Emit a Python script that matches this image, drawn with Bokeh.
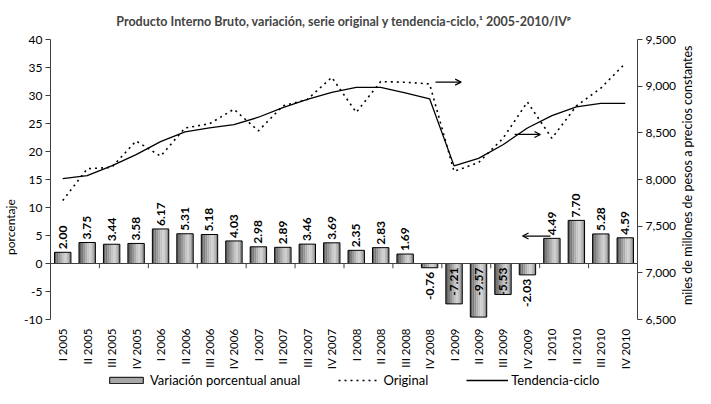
import math
from bokeh.plotting import figure
from bokeh.layouts import row, column
from bokeh.models import (Range1d, LinearAxis, FixedTicker, NumeralTickFormatter, Span,
                          ColumnDataSource, Legend, LegendItem, Arrow, OpenHead)
from bokeh.transform import dodge
from bokeh.core.properties import value
from bokeh.embed import file_html
from bokeh.resources import INLINE

# ---------------- data ----------------
quarters = ["I 2005", "II 2005", "III 2005", "IV 2005",
            "I 2006", "II 2006", "III 2006", "IV 2006",
            "I 2007", "II 2007", "III 2007", "IV 2007",
            "I 2008", "II 2008", "III 2008", "IV 2008",
            "I 2009", "II 2009", "III 2009", "IV 2009",
            "I 2010", "II 2010", "III 2010", "IV 2010"]
variation = [2.00, 3.75, 3.44, 3.58, 6.17, 5.31, 5.18, 4.03, 2.98, 2.89, 3.46, 3.69,
             2.35, 2.83, 1.69, -0.76, -7.21, -9.57, -5.53, -2.03, 4.49, 7.70, 5.28, 4.59]
original = [7774, 8115, 8130, 8413, 8250, 8552, 8597, 8753, 8521, 8788, 8858, 9094,
            8719, 9049, 9042, 9024, 8087, 8181, 8441, 8830, 8441, 8788, 8979, 9244]
trend = [8010, 8042, 8146, 8267, 8406, 8510, 8552, 8587, 8667, 8771, 8858, 8934,
         8986, 8986, 8927, 8865, 8146, 8226, 8372, 8552, 8684, 8778, 8816, 8816]
left_ticks = [-10, -5, 0, 5, 10, 15, 20, 25, 30, 35, 40]
right_ticks = [6500, 7000, 7500, 8000, 8500, 9000, 9500]
left_title = "porcentaje"
right_title = "miles de millones de pesos a precios constantes"
legend_labels = ["Variación porcentual anual", "Original", "Tendencia-ciclo"]

FONT = "Lato"
MAIN_H = 372
xs = list(range(len(quarters)))

p = figure(width=659, height=MAIN_H, output_backend="svg", toolbar_location=None,
           x_range=Range1d(-0.5, 23.5), y_range=Range1d(-10, 40),
           min_border_left=30, min_border_right=30, min_border_top=37, min_border_bottom=48)
p.extra_y_ranges = {"right": Range1d(6500, 9500)}
p.outline_line_color = None
p.xgrid.visible = False
p.ygrid.visible = False
p.background_fill_color = "white"

# title
p.title.text = "Producto Interno Bruto, variación, serie original y tendencia-ciclo,\u00b9 2005-2010/IV\u1d56"
p.title.align = "center"
p.title.text_font = FONT
p.title.text_font_size = "12.5px"
p.title.text_font_style = "bold"
p.title.standoff = 22

src = ColumnDataSource(dict(x=xs, v=variation, orig=original, trend=trend))

# bars with a horizontal grey gradient made of stripes
BW = 0.67
stripe_colors = ["#606060", "#7a7a7a", "#949494", "#adadad", "#c4c4c4", "#d0d0d0", "#bababa", "#8e8e8e"]
n = len(stripe_colors)
for k, c in enumerate(stripe_colors):
    off = -BW / 2 + BW / n * (k + 0.5)
    p.vbar(x=dodge("x", off), top="v", bottom=0, width=BW / n + 0.004, source=src,
           fill_color=c, line_color=None)
p.vbar(x="x", top="v", bottom=0, width=BW, source=src,
       fill_color=None, line_color="black", line_width=1)

# zero line with category ticks
p.add_layout(Span(location=0, dimension="width", line_color="#404040", line_width=1))
tick_x = [i + 0.5 for i in range(1, 23, 2)]
p.segment(x0=tick_x, y0=[0] * len(tick_x), x1=tick_x, y1=[-0.85] * len(tick_x),
          line_color="#404040", line_width=1)

# bar labels
pos_x = [i for i, v in zip(xs, variation) if v >= 0]
pos_y = [v for v in variation if v >= 0]
pos_t = ["%.2f" % v for v in variation if v >= 0]
p.text(x=pos_x, y=pos_y, text=pos_t, angle=math.pi / 2, text_align="left",
       text_baseline="middle", y_offset=-3, text_font=value(FONT), text_font_size="12px",
       text_color="black", text_font_style="bold")
neg_x = [i for i, v in zip(xs, variation) if v < 0]
neg_y = [v if v > -3 else 0 for v in variation if v < 0]
neg_t = ["%.2f" % v for v in variation if v < 0]
p.text(x=neg_x, y=neg_y, text=neg_t, angle=math.pi / 2, text_align="right",
       text_baseline="middle", y_offset=4, text_font=value(FONT), text_font_size="12px",
       text_color="black", text_font_style="bold")

# lines on right axis
DOT = "2 4"
p.line("x", "orig", source=src, y_range_name="right", line_color="black",
       line_width=1.6, line_dash=DOT)
p.line("x", "trend", source=src, y_range_name="right", line_color="black", line_width=1.3)

# left axis
la = p.left[0]
la.ticker = FixedTicker(ticks=left_ticks)
la.major_label_overrides = {t: str(t) for t in left_ticks}
la.major_tick_out = 5
la.major_tick_in = 0
la.minor_tick_line_color = None
la.axis_line_color = "#404040"
la.major_tick_line_color = "#404040"
la.major_label_text_font = FONT
la.major_label_text_font_size = "12px"
la.major_label_text_color = "black"
la.major_label_standoff = 3

# bottom axis (labels only)
ba = p.below[0]
ba.ticker = FixedTicker(ticks=xs)
ba.major_label_overrides = {i: q for i, q in zip(xs, quarters)}
ba.major_label_orientation = math.pi / 2
ba.major_tick_out = 0
ba.major_tick_in = 0
ba.minor_tick_line_color = None
ba.major_tick_line_color = None
ba.axis_line_color = None
ba.major_label_standoff = 9
ba.major_label_text_font = FONT
ba.major_label_text_font_size = "11.5px"
ba.major_label_text_color = "black"

# right axis
ra = LinearAxis(y_range_name="right", ticker=FixedTicker(ticks=right_ticks),
                formatter=NumeralTickFormatter(format="0,0"))
ra.major_tick_out = 5
ra.major_tick_in = 0
ra.minor_tick_line_color = None
ra.axis_line_color = "#404040"
ra.major_tick_line_color = "#404040"
ra.major_label_text_font = FONT
ra.major_label_text_font_size = "12px"
ra.major_label_text_color = "black"
ra.major_label_standoff = 3
p.add_layout(ra, "right")

# arrows
p.add_layout(Arrow(end=OpenHead(size=6, line_width=1.2), x_start=15.24, y_start=9043,
                   x_end=16.29, y_end=9043, y_range_name="right", line_width=1.2))
p.add_layout(Arrow(end=OpenHead(size=6, line_width=1.2), x_start=18.48, y_start=8483,
                   x_end=19.53, y_end=8483, y_range_name="right", line_width=1.2))
p.add_layout(Arrow(end=OpenHead(size=6, line_width=1.2), x_start=19.94, y_start=4.9,
                   x_end=18.8, y_end=4.9, line_width=1.2))


def strip(width, height):
    f = figure(width=width, height=height, output_backend="svg", toolbar_location=None,
               x_range=Range1d(0, 1), y_range=Range1d(0, 1), min_border=0)
    f.axis.visible = False
    f.grid.visible = False
    f.outline_line_color = None
    return f


# left axis title strip
p0 = strip(20, MAIN_H)
p0.text(x=[0.5], y=[0.33], text=[left_title], angle=math.pi / 2, text_align="center",
        text_baseline="middle", text_font=value(FONT), text_font_size="12px",
        text_color="black")

# right axis title strip (reads bottom to top)
p2 = strip(16, MAIN_H)
p2.text(x=[0.5], y=[0.515], text=[right_title], angle=math.pi / 2, text_align="center",
        text_baseline="middle", text_font=value(FONT), text_font_size="12.5px",
        text_color="black")

# legend strip (sample renderers hold one off-screen point so the legend can draw them)
p3 = strip(695, 388 - MAIN_H)
r_bar = p3.vbar(x=[-5], top=[-5], bottom=[-6], width=0.1, fill_color="#a8a8a8",
                line_color="black", line_width=1)
r_orig = p3.line(x=[-6, -5], y=[-5, -5], line_color="black", line_width=1.6, line_dash=DOT)
r_trend = p3.line(x=[-6, -5], y=[-5, -5], line_color="black", line_width=1.3)
legend = Legend(items=[LegendItem(label=legend_labels[0], renderers=[r_bar]),
                       LegendItem(label=legend_labels[1], renderers=[r_orig]),
                       LegendItem(label=legend_labels[2], renderers=[r_trend])],
                orientation="horizontal", location=(105, 0), glyph_width=42, glyph_height=8,
                label_height=11, label_standoff=3, spacing=38, padding=0, margin=0,
                border_line_color=None, background_fill_alpha=0,
                label_text_font=FONT, label_text_font_size="13px", label_text_color="black")
p3.add_layout(legend)

layout = column(row(p0, p, p2, spacing=0), p3, spacing=0)
open("out.html", "w").write(file_html(layout, INLINE))
